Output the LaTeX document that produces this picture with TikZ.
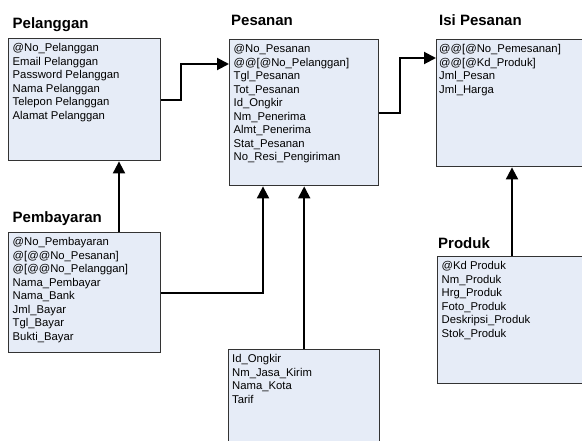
\documentclass[tikz,border=0pt]{standalone}
\usepackage{fontspec}
\setmainfont{Liberation Sans}
\usepackage{xcolor}
\usepackage{tikz}
\usetikzlibrary{calc,arrows.meta}
\definecolor{boxfill}{HTML}{E6ECF7}
\definecolor{boxline}{HTML}{333333}

\begin{document}
\begin{tikzpicture}[x=1pt,y=-1pt,
		entity/.style={draw=boxline,fill=boxfill,line width=1.4pt,anchor=north west,inner sep=0pt},
		attr/.style={anchor=north west,align=left,inner sep=0pt,font=\fontsize{11.3}{13.5}\selectfont},
		title/.style={anchor=base west,inner sep=0pt,font=\fontsize{15}{16}\selectfont\bfseries},
		link/.style={draw,black,line width=2pt,-{Triangle[length=12pt,width=12pt]}} ]
		
		\useasboundingbox (0,0) rectangle (582,440);
		
		% tabel
		\node[entity,minimum width=152pt,minimum height=122pt] (pelanggan) at (8,38) {};
		\node[entity,minimum width=149pt,minimum height=146pt] (pesanan) at (229,39) {};
		\node[entity,minimum width=154pt,minimum height=127pt] (isi) at (436,39) {};
		\node[entity,minimum width=152pt,minimum height=120pt] (pembayaran) at (8,232) {};
		\node[entity,minimum width=153pt,minimum height=127pt] (produk) at (437,256) {};
		\node[entity,minimum width=151pt,minimum height=100pt] (ongkir) at (228,349) {};
		
		% judul
		\node[title] (t-pelanggan) at (12.5,28) {Pelanggan};
		\node[title] (t-pesanan) at (231,25) {Pesanan};
		\node[title] (t-isi) at (439,25) {Isi Pesanan};
		\node[title] (t-pembayaran) at (12.5,222) {Pembayaran};
		\node[title] (t-produk) at (438,248) {Produk};
		
		% atribut
		\node[attr] (a-pelanggan) at ($(pelanggan.north west)+(4.5,5.5)$) {@No\_Pelanggan\\Email Pelanggan\\Password Pelanggan\\Nama Pelanggan\\Telepon Pelanggan\\Alamat Pelanggan};
		\node[attr] (a-pesanan) at ($(pesanan.north west)+(4.5,5.5)$) {@No\_Pesanan\\@@[@No\_Pelanggan]\\Tgl\_Pesanan\\Tot\_Pesanan\\Id\_Ongkir\\Nm\_Penerima\\Almt\_Penerima\\Stat\_Pesanan\\No\_Resi\_Pengiriman};
		\node[attr] (a-isi) at ($(isi.north west)+(3,5.5)$) {@@[@No\_Pemesanan]\\@@[@Kd\_Produk]\\Jml\_Pesan\\Jml\_Harga};
		\node[attr] (a-pembayaran) at ($(pembayaran.north west)+(4.5,5.5)$) {@No\_Pembayaran\\@[@@No\_Pesanan]\\@[@@No\_Pelanggan]\\Nama\_Pembayar\\Nama\_Bank\\Jml\_Bayar\\Tgl\_Bayar\\Bukti\_Bayar};
		\node[attr] (a-produk) at ($(produk.north west)+(4.5,5.5)$) {@Kd Produk\\Nm\_Produk\\Hrg\_Produk\\Foto\_Produk\\Deskripsi\_Produk\\Stok\_Produk};
		\node[attr] (a-ongkir) at ($(ongkir.north west)+(4,5.5)$) {Id\_Ongkir\\Nm\_Jasa\_Kirim\\Nama\_Kota\\Tarif};
		
		% relasi
		\draw[link] (pelanggan.east) -- ++(20,0) |- ($(pesanan.north west)+(0,25)$);
		\draw[link] (pesanan.east) -- ++(21,0) |- ($(isi.north west)+(0,19)$);
		\draw[link] ($(pembayaran.north west)+(111,0)$) -- ($(pelanggan.south west)+(111,0)$);
		\draw[link] (pembayaran.east) -| ($(pesanan.south west)+(34,0)$);
		\draw[link] (ongkir.north) -- (ongkir.north |- pesanan.south);
		\draw[link] ($(produk.north west)+(75,0)$) -- ($(isi.south west)+(76,0)$);
	\end{tikzpicture}
\end{document}
